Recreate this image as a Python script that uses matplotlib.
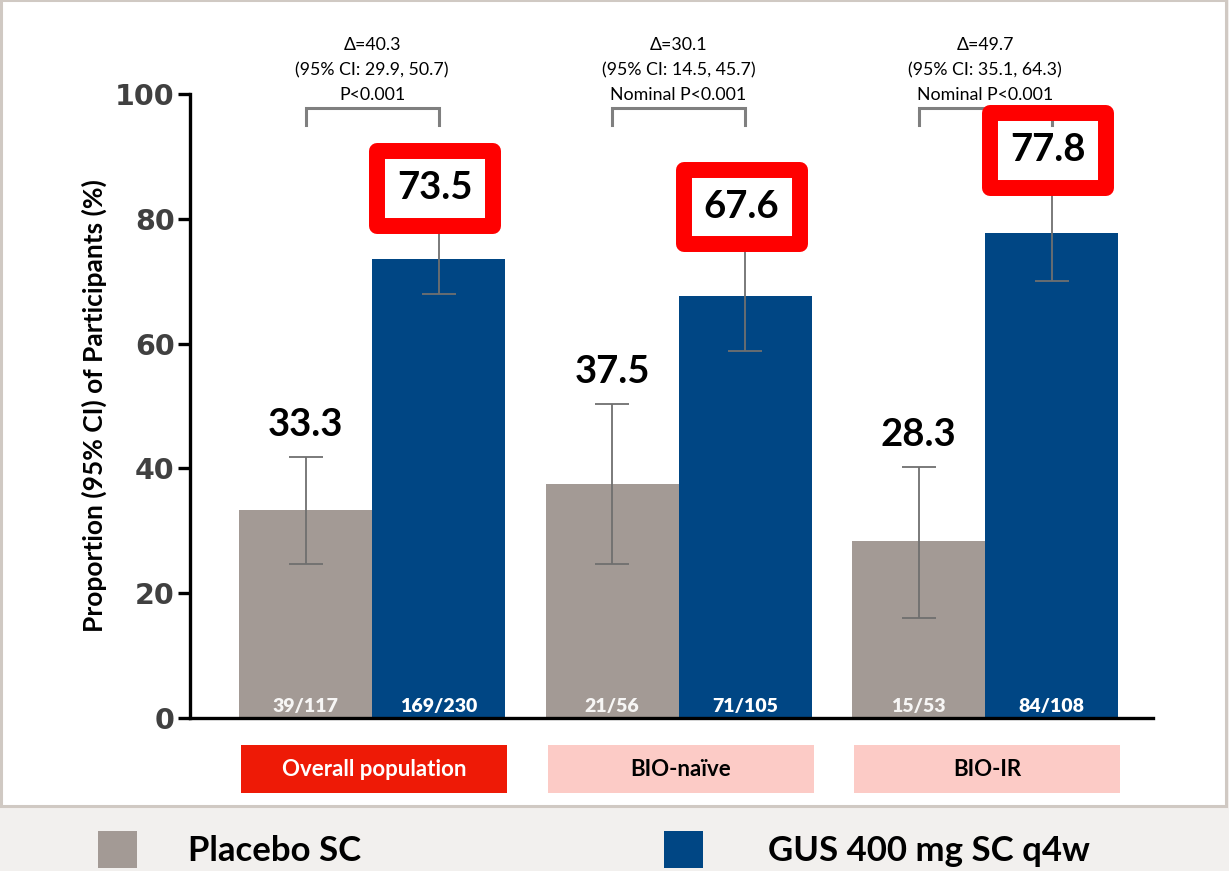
import matplotlib
matplotlib.use("Agg")
import matplotlib.pyplot as plt
from matplotlib.patches import Rectangle
from matplotlib.transforms import blended_transform_factory
import numpy as np

# ---- data -------------------------------------------------------------
groups = ["Overall population", "BIO-naïve", "BIO-IR"]
placebo = [33.3, 37.5, 28.3]
placebo_lo = [24.7, 24.7, 16.0]
placebo_hi = [41.8, 50.3, 40.2]
gus = [73.5, 67.6, 77.8]
gus_lo = [67.9, 58.8, 70.0]
gus_hi = [79.1, 76.4, 85.6]
placebo_n = ["39/117", "21/56", "15/53"]
gus_n = ["169/230", "71/105", "84/108"]
deltas = ["Δ=40.3", "Δ=30.1", "Δ=49.7"]
delta_ci = ["(95% CI: 29.9, 50.7)", "(95% CI: 14.5, 45.7)", "(95% CI: 35.1, 64.3)"]
p_text = ["P<0.001", "Nominal P<0.001", "Nominal P<0.001"]
series_names = ["Placebo SC", "GUS 400 mg SC q4w"]
yticks = [0, 20, 40, 60, 80, 100]

# ---- style ------------------------------------------------------------
GREY = "#a39a95"
BLUE = "#004684"
RED = "#ff0000"
BANNER_RED = "#ee1a06"
BANNER_PINK = "#fccbc6"
WHISKER = "#6f6f6f"
SANS = ["Lato", "DejaVu Sans"]

W, H = 1229, 871
fig = plt.figure(figsize=(W / 100, H / 100), dpi=100)
fig.patch.set_facecolor("#f2f0ee")

# white panel holding the chart
panel = Rectangle((1 / W, 1 - 806 / H), 1225 / W, 806 / H, transform=fig.transFigure,
                  facecolor="white", edgecolor="#d0c9c3", linewidth=2.2, zorder=-10)
fig.patches.append(panel)

ax = fig.add_axes([190 / W, 1 - 718 / H, (1153 - 190) / W, (718 - 94) / H])
ax.set_facecolor("none")
ax.set_zorder(5)

x = np.arange(len(groups))
bw = 0.434
xp = x - bw / 2
xg = x + bw / 2

ax.bar(xp, placebo, width=bw, color=GREY, zorder=2)
ax.bar(xg, gus, width=bw, color=BLUE, zorder=2)

ekw = dict(fmt="none", ecolor=WHISKER, elinewidth=1.3, capsize=12, capthick=1.3, zorder=3)
ax.errorbar(xp, placebo, yerr=[np.subtract(placebo, placebo_lo), np.subtract(placebo_hi, placebo)], **ekw)
ax.errorbar(xg, gus, yerr=[np.subtract(gus, gus_lo), np.subtract(gus_hi, gus)], **ekw)

ax.set_xlim(-0.594, 2.548)
ax.set_ylim(0, 100)
ax.set_yticks(yticks)
ax.set_xticks([])
for s in ["top", "right"]:
    ax.spines[s].set_visible(False)
for s in ["left", "bottom"]:
    ax.spines[s].set_linewidth(2.4)
    ax.spines[s].set_color("black")
ax.tick_params(axis="y", length=9, width=2.4, pad=2, labelsize=20.5, labelcolor="#404040")
for lab in ax.get_yticklabels():
    lab.set_fontweight("bold")
    lab.set_family("DejaVu Sans")

ax.set_ylabel("Proportion (95% CI) of Participants (%)", fontsize=19, fontweight="bold",
              family=SANS, labelpad=6)

# placebo values above their whiskers
for xi, hi, v in zip(xp, placebo_hi, placebo):
    ax.text(xi, hi + 5.2, f"{v:.1f}", ha="center", va="center", fontsize=27.5,
            fontweight="bold", family=SANS, zorder=6)

# n/N counts at the foot of each bar
for xi, t in zip(xp, placebo_n):
    ax.text(xi, 1.9, t, ha="center", va="center", fontsize=14, fontweight="heavy",
            color="#f7f6f5", family=SANS, zorder=4)
for xi, t in zip(xg, gus_n):
    ax.text(xi, 1.9, t, ha="center", va="center", fontsize=14, fontweight="heavy",
            color="white", family=SANS, zorder=4)

# comparison brackets and annotations
bracket_top, bracket_leg = 97.7, 95.0
for i in range(len(groups)):
    ax.plot([xp[i], xp[i], xg[i], xg[i]], [bracket_leg, bracket_top, bracket_top, bracket_leg],
            color="#7f7f7f", lw=2.2, clip_on=False, zorder=4, solid_joinstyle="miter")
    for k, t in enumerate([deltas[i], delta_ci[i], p_text[i]]):
        ax.text(x[i], 107.9 - k * 4.05, t, ha="center", va="center", fontsize=12.8,
                family=SANS, clip_on=False, zorder=4)

# highlighted GUS values in red frames
box_y = [84.9, 81.9, 91.0]
box_w, box_h = 0.378, 12.0
for xi, yc, v in zip(xg, box_y, gus):
    ax.add_patch(Rectangle((xi - 0.0112 - box_w / 2, yc - box_h / 2), box_w, box_h,
                           facecolor="white", edgecolor="none", zorder=3.5, clip_on=False))
    ax.add_patch(Rectangle((xi - 0.0112 - box_w / 2, yc - box_h / 2), box_w, box_h,
                           facecolor="none", edgecolor=RED, linewidth=11.5,
                           joinstyle="round", zorder=5, clip_on=False))
    ax.text(xi - 0.0112, yc, f"{v:.1f}", ha="center", va="center", fontsize=27.5,
            fontweight="bold", family=SANS, zorder=6, clip_on=False)

# subgroup banners below the axis
trans = blended_transform_factory(ax.transData, ax.transAxes)
for i, g in enumerate(groups):
    fc = BANNER_RED if i == 0 else BANNER_PINK
    tc = "white" if i == 0 else "black"
    ax.add_patch(Rectangle((x[i] - 0.427, -0.1202), 0.868, 0.0769, transform=trans,
                           facecolor=fc, edgecolor="none", clip_on=False))
    ax.text(x[i] + 0.007, -0.0818, g, transform=trans, ha="center", va="center",
            fontsize=16, fontweight="bold", color=tc, family=SANS, clip_on=False)

# legend strip
for x0, col in [(98, GREY), (664, BLUE)]:
    fig.patches.append(Rectangle((x0 / W, 1 - 868 / H), 39 / W, 37 / H,
                                 transform=fig.transFigure, facecolor=col, edgecolor="none"))
for x0, name in zip([188, 768], series_names):
    fig.text(x0 / W, 1 - 851 / H, name, ha="left", va="center", fontsize=25,
             fontweight="bold", family=SANS)

fig.savefig("out.png", dpi=100, facecolor=fig.get_facecolor())
